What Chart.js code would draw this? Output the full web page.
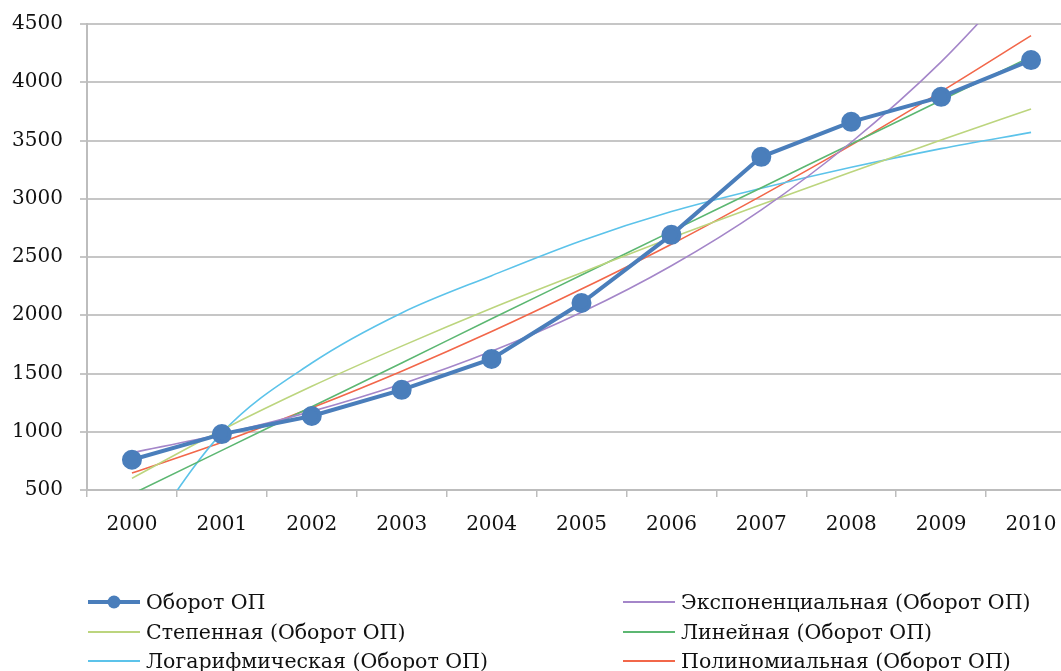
<!DOCTYPE html>
<html>
<head>
<meta charset="utf-8">
<script src="https://cdn.jsdelivr.net/npm/chart.js@4.4.1/dist/chart.umd.min.js"></script>
<style>
  html, body { margin: 0; padding: 0; background: #fff; overflow: hidden; width: 1061px; height: 671px; }
  #wrap { position: absolute; left: 0; top: 0; width: 1076px; height: 540px; }
  #legend { position: absolute; left: 0; top: 0; width: 1061px; height: 671px; pointer-events: none; }
  .item { position: absolute; height: 30px; display: flex; align-items: center;
          font-family: "DejaVu Serif", serif; font-size: 20.5px; color: #111; white-space: nowrap; }
  .swatch { position: relative; width: 52px; height: 30px; margin-right: 6px; flex: none; }
  .swatch .ln { position: absolute; left: 0; right: 0; top: 50%; transform: translateY(-50%); }
  .swatch .dot { position: absolute; left: 50%; top: 50%; width: 13px; height: 13px; border-radius: 50%;
                 transform: translate(-50%, -50%); }
</style>
</head>
<body>
<div id="wrap"><canvas id="chart" width="1076" height="540"></canvas></div>
<div id="legend"></div>
<script>
// Years on the category axis
const years = ['2000', '2001', '2002', '2003', '2004', '2005', '2006', '2007', '2008', '2009', '2010'];

// Turnover series
const turnover = [760, 980, 1135, 1360, 1625, 2105, 2690, 3360, 3660, 3875, 4190];

// Trend lines, value at each year
const expTrend    = [820, 980, 1175, 1410, 1690, 2025, 2425, 2905, 3485, 4175, 5000];
const powerTrend  = [600, 1015, 1390, 1735, 2060, 2365, 2665, 2950, 3230, 3505, 3770];
const linearTrend = [465, 840, 1215, 1590, 1970, 2345, 2720, 3095, 3470, 3845, 4220];
const logTrend    = [-60, 990, 1590, 2020, 2340, 2640, 2890, 3090, 3270, 3430, 3570];
const polyTrend   = [645, 910, 1205, 1520, 1860, 2225, 2610, 3025, 3460, 3920, 4400];

// Y axis range and step
const yMin = 500, yMax = 4500, yStep = 500;

const seriesNames = [
  'Оборот ОП',
  'Экспоненциальная (Оборот ОП)',
  'Степенная (Оборот ОП)',
  'Линейная (Оборот ОП)',
  'Логарифмическая (Оборот ОП)',
  'Полиномиальная (Оборот ОП)'
];
const seriesValues = [turnover, expTrend, powerTrend, linearTrend, logTrend, polyTrend];
const seriesColors = ['#4a7ebb', '#a486c9', '#bcd57e', '#5cb772', '#5cc3ea', '#f2674a'];

const tickFont = { family: '"DejaVu Serif", serif', size: 20 };

const datasets = seriesValues.map((vals, i) => {
  if (i === 0) {
    return {
      label: seriesNames[i], data: vals, order: 0,
      borderColor: seriesColors[i], backgroundColor: seriesColors[i],
      borderWidth: 4, pointRadius: 8, pointHoverRadius: 8,
      pointBackgroundColor: seriesColors[i], pointBorderColor: seriesColors[i],
      tension: 0
    };
  }
  return {
    label: seriesNames[i], data: vals, order: 1,
    borderColor: seriesColors[i], backgroundColor: seriesColors[i],
    borderWidth: 1.6, pointRadius: 0, pointHoverRadius: 0,
    cubicInterpolationMode: 'monotone'
  };
});

new Chart(document.getElementById('chart'), {
  type: 'line',
  data: { labels: years, datasets },
  options: {
    responsive: false,
    animation: false,
    layout: { autoPadding: false, padding: { top: 24, left: 0, right: 0, bottom: 0 } },
    plugins: { legend: { display: false }, tooltip: { enabled: false } },
    scales: {
      x: {
        offset: true,
        grid: { offset: true, drawOnChartArea: false, drawTicks: true, tickLength: 7, color: '#bdbdbd', lineWidth: 1.5 },
        border: { color: '#bdbdbd', width: 2 },
        ticks: { font: tickFont, color: '#111', padding: 16, maxRotation: 0, autoSkip: false },
        afterFit(scale) { scale.height = 50; scale.paddingLeft = 0; scale.paddingRight = 0; }
      },
      y: {
        min: yMin, max: yMax,
        grid: { color: '#c6c6c6', lineWidth: 2, tickLength: 7 },
        border: { color: '#bdbdbd', width: 2 },
        ticks: { stepSize: yStep, font: tickFont, color: '#111', padding: 17,
                 callback: (v) => String(v) },
        afterFit(scale) { scale.width = 87; scale.paddingTop = 0; scale.paddingBottom = 0; }
      }
    }
  }
});

// Two-column legend below the plot
const legend = document.getElementById('legend');
const colX = [88, 623];
const rowY = [587, 617, 646];
seriesNames.forEach((name, i) => {
  const item = document.createElement('div');
  item.className = 'item';
  item.style.left = colX[i % 2] + 'px';
  item.style.top = rowY[Math.floor(i / 2)] + 'px';
  const sw = document.createElement('span');
  sw.className = 'swatch';
  const ln = document.createElement('span');
  ln.className = 'ln';
  ln.style.height = (i === 0 ? 4 : 2) + 'px';
  ln.style.background = seriesColors[i];
  sw.appendChild(ln);
  if (i === 0) {
    const dot = document.createElement('span');
    dot.className = 'dot';
    dot.style.background = seriesColors[i];
    sw.appendChild(dot);
  }
  item.appendChild(sw);
  const tx = document.createElement('span');
  tx.textContent = name;
  item.appendChild(tx);
  legend.appendChild(item);
});
</script>
</body>
</html>
